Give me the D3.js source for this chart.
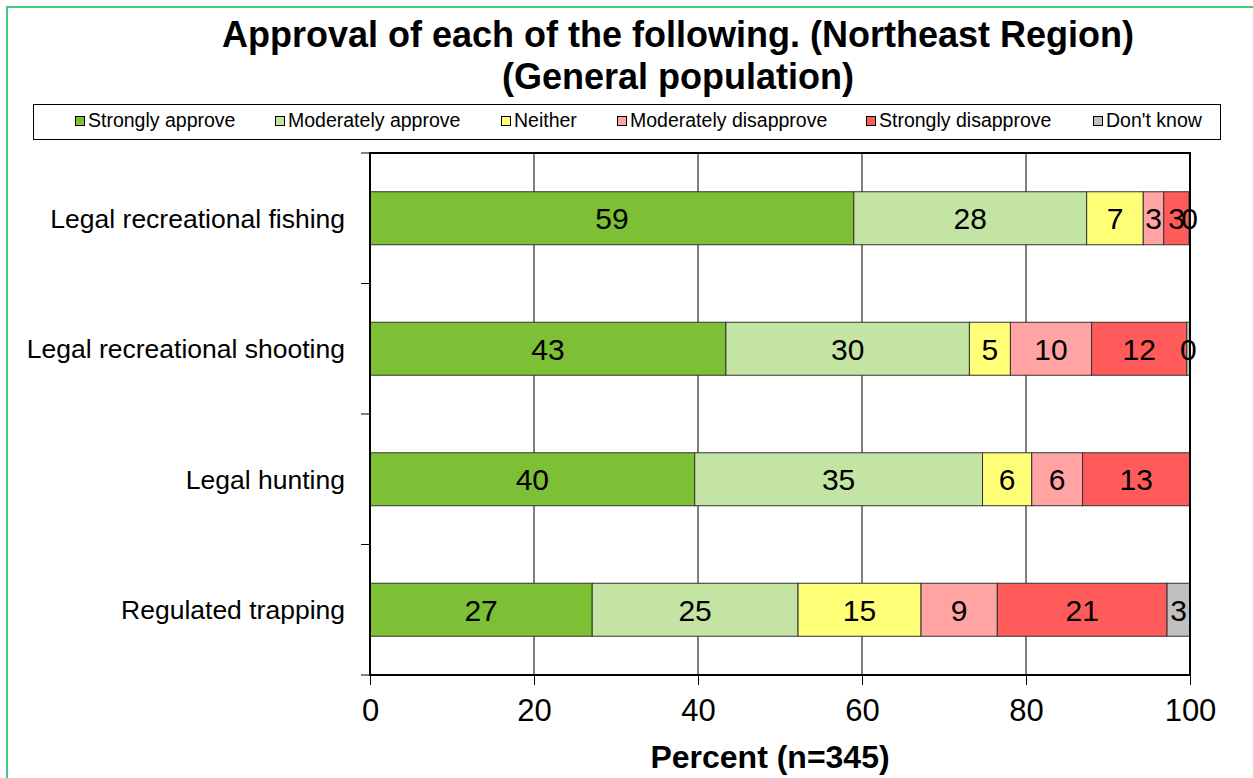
<!DOCTYPE html>
<html>
<head>
<meta charset="utf-8">
<script src="https://cdn.jsdelivr.net/npm/d3@7"></script>
<style>
  body { margin: 0; background: #fff; }
  svg { display: block; font-family: Arial, "Liberation Sans", sans-serif; }
</style>
</head>
<body>
<svg id="chart" width="1253" height="778"></svg>
<script>
// data
const categories = ["Legal recreational fishing", "Legal recreational shooting", "Legal hunting", "Regulated trapping"];
const seriesNames = ["Strongly approve", "Moderately approve", "Neither", "Moderately disapprove", "Strongly disapprove", "Don't know"];
const seriesColors = ["#7dbf35", "#c4e4a4", "#ffff77", "#ffa3a3", "#ff5b5b", "#c0c0c0"];
const stronglyApprove = [59.0, 43.4, 39.6, 27.1];
const moderatelyApprove = [28.4, 29.7, 35.1, 25.1];
const neither = [6.9, 5.0, 6.0, 15.0];
const moderatelyDisapprove = [2.5, 9.9, 6.2, 9.3];
const stronglyDisapprove = [3.1, 11.6, 13.1, 20.7];
const dontKnow = [0.1, 0.4, null, 2.8];
const xTicks = [0, 20, 40, 60, 80, 100];

const allSeries = [stronglyApprove, moderatelyApprove, neither, moderatelyDisapprove, stronglyDisapprove, dontKnow];

let svg = d3.select("#chart");

// outer green frame
svg.append("rect")
    .attr("x", 7).attr("y", 7)
    .attr("width", 1400).attr("height", 900)
    .attr("fill", "none")
    .attr("stroke", "#46c884")
    .attr("stroke-width", 2);

// title
let title = svg.append("text")
    .attr("text-anchor", "middle")
    .attr("font-weight", "bold")
    .attr("font-size", 36)
    .attr("fill", "#000");
title.append("tspan").attr("x", 678).attr("y", 47).text("Approval of each of the following. (Northeast Region)");
title.append("tspan").attr("x", 678).attr("y", 89).text("(General population)");

// legend
svg.append("rect")
    .attr("x", 33.5).attr("y", 104.5)
    .attr("width", 1187).attr("height", 35)
    .attr("fill", "#fff")
    .attr("stroke", "#000")
    .attr("stroke-width", 1);

let legendX = [75, 275, 501, 617, 866, 1093];
let legendG = svg.append("g");
let items = legendG.selectAll("g.item")
    .data(seriesNames)
    .enter()
    .append("g")
    .attr("class", "item")
    .attr("transform", function (d, i) { return "translate(" + legendX[i] + ",0)"; });
items.append("rect")
    .attr("x", 0.5).attr("y", 116.5)
    .attr("width", 9).attr("height", 9)
    .attr("fill", function (d, i) { return seriesColors[i]; })
    .attr("stroke", "#000")
    .attr("stroke-width", 1);
items.append("text")
    .attr("x", 13).attr("y", 127)
    .attr("font-size", 19.5)
    .text(function (d) { return d; });

// plot area
let plotLeft = 370, plotRight = 1190, plotTop = 153, plotBottom = 675;

let x = d3.scaleLinear().domain([0, 100]).range([plotLeft, plotRight]);
let y = d3.scaleBand().domain(categories).range([plotTop, plotBottom])
    .paddingInner(0.594).paddingOuter(0.297);

// gridlines
svg.append("g")
    .selectAll("line")
    .data(xTicks.slice(1, -1))
    .enter()
    .append("line")
    .attr("x1", function (d) { return x(d); })
    .attr("x2", function (d) { return x(d); })
    .attr("y1", plotTop).attr("y2", plotBottom)
    .attr("stroke", "#000")
    .attr("stroke-width", 1);

// stacked segments
let segs = [];
categories.forEach(function (c, ci) {
    let acc = 0;
    allSeries.forEach(function (s, si) {
        let v = s[ci];
        if (v === null) return;
        segs.push({cat: c, si: si, x0: acc, x1: acc + v, v: v});
        acc += v;
    });
});

let barsG = svg.append("g");
barsG.selectAll("rect")
    .data(segs)
    .enter()
    .append("rect")
    .attr("x", function (d) { return x(d.x0); })
    .attr("y", function (d) { return y(d.cat); })
    .attr("width", function (d) { return x(d.x1) - x(d.x0); })
    .attr("height", y.bandwidth())
    .attr("fill", function (d) { return seriesColors[d.si]; })
    .attr("stroke", "#333")
    .attr("stroke-width", 1);

barsG.selectAll("text")
    .data(segs)
    .enter()
    .append("text")
    .attr("x", function (d) { return x((d.x0 + d.x1) / 2); })
    .attr("y", function (d) { return y(d.cat) + y.bandwidth() / 2; })
    .attr("dy", ".36em")
    .attr("text-anchor", "middle")
    .attr("font-size", 30)
    .text(function (d) { return Math.round(d.v); });

// plot frame
svg.append("rect")
    .attr("x", plotLeft).attr("y", plotTop)
    .attr("width", plotRight - plotLeft).attr("height", plotBottom - plotTop)
    .attr("fill", "none")
    .attr("stroke", "#000")
    .attr("stroke-width", 2);

// y axis: ticks at category boundaries, labels at centres
let yBounds = d3.range(categories.length + 1).map(function (i) { return plotTop + i * y.step(); });
svg.append("g").selectAll("line")
    .data(yBounds)
    .enter()
    .append("line")
    .attr("x1", plotLeft - 9).attr("x2", plotLeft)
    .attr("y1", function (d) { return d; })
    .attr("y2", function (d) { return d; })
    .attr("stroke", "#000")
    .attr("stroke-width", 1);

svg.append("g").selectAll("text")
    .data(categories)
    .enter()
    .append("text")
    .attr("x", 345)
    .attr("y", function (d) { return y(d) + y.bandwidth() / 2; })
    .attr("dy", ".35em")
    .attr("text-anchor", "end")
    .attr("font-size", 26.5)
    .text(function (d) { return d; });

// x axis
let xAxis = d3.axisBottom(x).tickValues(xTicks).tickSize(10).tickPadding(14);
let xg = svg.append("g")
    .attr("transform", "translate(0," + plotBottom + ")")
    .call(xAxis);
xg.select(".domain").remove();
xg.selectAll("line").attr("stroke", "#000");
xg.selectAll("text")
    .attr("font-size", 31)
    .attr("font-family", "Arial, 'Liberation Sans', sans-serif")
    .attr("fill", "#000");

svg.append("text")
    .attr("x", 770).attr("y", 768)
    .attr("text-anchor", "middle")
    .attr("font-weight", "bold")
    .attr("font-size", 32)
    .text("Percent (n=345)");
</script>
</body>
</html>
